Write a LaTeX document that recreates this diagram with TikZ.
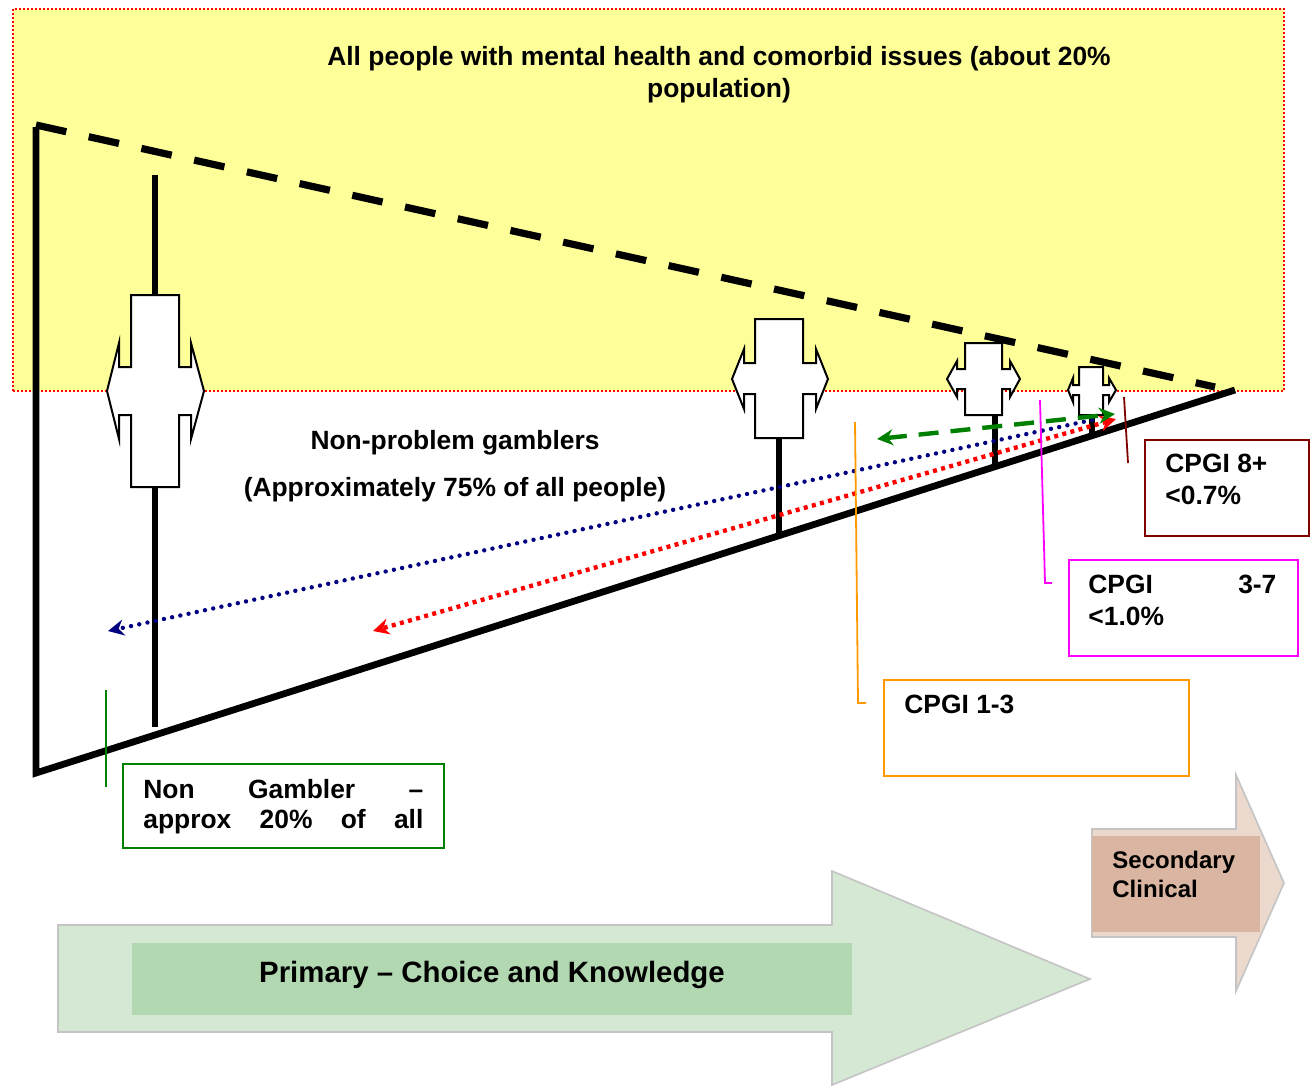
\documentclass[tikz,border=0pt]{standalone}
\usepackage{fontspec}
\setmainfont{Liberation Sans}
\usetikzlibrary{arrows.meta}
\definecolor{ylw}{HTML}{FFFF99}
\definecolor{dred}{HTML}{800000}
\definecolor{mag}{HTML}{FF00FF}
\definecolor{orng}{HTML}{FF9900}
\definecolor{grn}{HTML}{008000}
\definecolor{navyb}{HTML}{000080}
\definecolor{lgreen}{HTML}{D5E8D4}
\definecolor{mgreen}{HTML}{B2D8B2}
\definecolor{lpink}{HTML}{ECD9CE}
\definecolor{mbrown}{HTML}{DAB5A2}
\definecolor{bord}{HTML}{C4C4C4}
\begin{document}
\begin{tikzpicture}[x=0.5pt,y=-0.5pt,
  txt/.style={font=\bfseries\fontsize{13.2}{15.8}\selectfont, inner sep=0pt, align=left},
  heavy/.style={line width=3.4pt},
  fourway/.style={draw=black, fill=white, line width=1pt, line join=miter},
  callbox/.style={draw=#1, line width=0.8pt, fill=white, inner sep=0pt, anchor=north west},
  callline/.style={draw=#1, line width=0.9pt},
  bigarrow/.style={draw=bord, line width=0.8pt},
]
\useasboundingbox (0,0) rectangle (1315,1086);

% population area
\node[fill=ylw, draw=red, line width=1pt, dash pattern=on 1pt off 1pt,
      minimum width=635.5pt, minimum height=191pt, inner sep=0pt, anchor=north west] (pop) at (12,8) {};
\node[txt, align=center, anchor=north] (title) at (719,46)
  {All people with mental health and comorbid issues (about 20\%\\population)};

% triangle
\coordinate (A) at (36,127);
\coordinate (B) at (36,773);
\coordinate (C) at (1235,390);
\coordinate (D) at (1215,387);
\draw[heavy, line join=miter] (A) -- (B) -- (C);
\draw[line width=3.6pt, dash pattern=on 15.5pt off 11.5pt] (36,125) -- (D);

% posts
\coordinate (p1t) at (155,175); \coordinate (p1b) at (155,727);
\coordinate (p2t) at (779,438); \coordinate (p2b) at (779,537);
\coordinate (p3t) at (995,415); \coordinate (p3b) at (995,465);
\coordinate (p4t) at (1092,415); \coordinate (p4b) at (1092,437);
\draw[heavy] (p1t) -- (p1b);
\draw[heavy] (p2t) -- (p2b);
\draw[heavy] (p3t) -- (p3b);
\draw[heavy] (p4t) -- (p4b);

% four-way arrows
\draw[fourway] (131,295) -- (179,295) -- (179,367) -- (191,367) -- (191,343) -- (204,391) -- (191,439) -- (191,415) -- (179,415) -- (179,487) -- (131,487) -- (131,415) -- (119,415) -- (119,439) -- (107,391) -- (119,343) -- (119,367) -- (131,367) -- cycle;
\draw[fourway] (755,319) -- (803,319) -- (803,363) -- (816,363) -- (816,349) -- (828,379) -- (816,409) -- (816,394) -- (803,394) -- (803,438) -- (755,438) -- (755,394) -- (744,394) -- (744,409) -- (732,379) -- (744,349) -- (744,363) -- (755,363) -- cycle;
\draw[fourway] (965,343) -- (1002,343) -- (1002,369) -- (1010,369) -- (1010,361) -- (1020,379) -- (1010,397) -- (1010,389) -- (1002,389) -- (1002,415) -- (965,415) -- (965,389) -- (957,389) -- (957,397) -- (947,379) -- (957,361) -- (957,369) -- (965,369) -- cycle;
\draw[fourway] (1079,367) -- (1103,367) -- (1103,385) -- (1109,385) -- (1109,378) -- (1116,390) -- (1109,402) -- (1109,395) -- (1103,395) -- (1103,415) -- (1079,415) -- (1079,395) -- (1073,395) -- (1073,402) -- (1068,390) -- (1073,378) -- (1073,385) -- (1079,385) -- cycle;

% texts
\node[txt, align=center, anchor=north, font=\bfseries\fontsize{13.2}{23.5}\selectfont] (npg) at (455,430)
  {Non-problem gamblers\\(Approximately 75\% of all people)};

% dotted / dashed arrows
\coordinate (bs) at (1092,420); \coordinate (be) at (108,631);
\coordinate (rs) at (1116,419); \coordinate (re) at (373,631);
\coordinate (gs) at (877,439); \coordinate (ge) at (1115,414);
\draw[navyb, line width=2.2pt, line cap=round, dash pattern=on 0pt off 4.2pt,
      -{Stealth[length=8pt,width=8pt]}] (bs) -- (be);
\draw[red, line width=2.2pt, dash pattern=on 2pt off 2.2pt,
      {Stealth[length=8pt,width=8pt]}-{Stealth[length=8pt,width=8pt]}] (rs) -- (re);
\draw[grn, line width=2.2pt, dash pattern=on 10pt off 6pt,
      {Stealth[length=8pt,width=8pt]}-{Stealth[length=8pt,width=8pt]}] (gs) -- (ge);

% callout lines
\draw[callline=dred] (1124,397) -- (1128,463);
\draw[callline=mag] (1040,400) -- (1045,583) -- (1052,583);
\draw[callline=orng] (855,422) -- (858,703) -- (866,703);
\draw[callline=grn] (106,690) -- (106,787);

% callout boxes
\node[callbox=dred, minimum width=82pt, minimum height=48pt] (b8) at (1144,439) {};
\node[txt, anchor=north west] (t8) at (1165,454) {CPGI 8+\\<0.7\%};
\node[callbox=mag, minimum width=114.5pt, minimum height=48pt] (b37) at (1068,559) {};
\node[txt, anchor=north west] (t37) at (1088,575) {\makebox[94pt][s]{CPGI 3-7}\\<1.0\%};
\node[callbox=orng, minimum width=152.5pt, minimum height=48pt] (b13) at (883,679) {};
\node[txt, anchor=north west] (t13) at (904,695) {CPGI 1-3};
\node[callbox=grn, minimum width=160.5pt, minimum height=42pt] (bng) at (122,763) {};
\node[txt, anchor=north west, font=\bfseries\fontsize{13.2}{15}\selectfont] (tng) at (143,779)
  {\makebox[140pt][s]{Non Gambler –}\\\makebox[140pt][s]{approx 20\% of all}};

% bottom arrows
\draw[bigarrow, fill=lgreen] (58,925) -- (832,925) -- (832,871) -- (1090,979) -- (832,1085) -- (832,1032) -- (58,1032) -- cycle;
\node[fill=mgreen, minimum width=360pt, minimum height=36pt, inner sep=0pt, anchor=north west] (prim) at (132,943) {};
\node[txt, anchor=base, font=\bfseries\fontsize{14.7}{17}\selectfont] (tprim) at (492,982) {Primary – Choice and Knowledge};

\draw[bigarrow, fill=lpink] (1092,829) -- (1236,829) -- (1236,775) -- (1284,883) -- (1236,991) -- (1236,937) -- (1092,937) -- cycle;
\node[fill=mbrown, minimum width=84pt, minimum height=48pt, inner sep=0pt, anchor=north west] (sec) at (1092,836) {};
\node[txt, anchor=north west, font=\bfseries\fontsize{12}{14.5}\selectfont] (tsec) at (1112,851) {Secondary\\Clinical};
\end{tikzpicture}
\end{document}
